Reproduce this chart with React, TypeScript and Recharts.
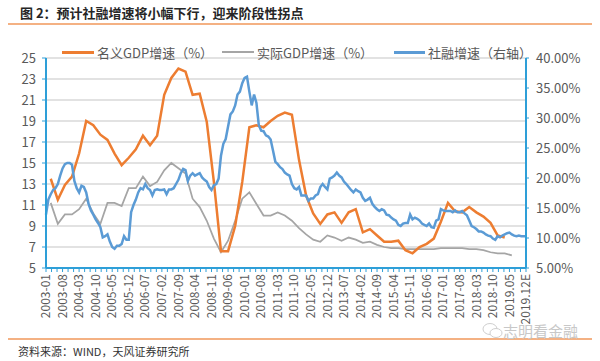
import { LineChart, Line, XAxis, YAxis, CartesianGrid } from 'recharts';

// monthly categories 2003-01 .. 2019-12
const YEARS = [2003, 2004, 2005, 2006, 2007, 2008, 2009, 2010, 2011, 2012, 2013, 2014, 2015, 2016, 2017, 2018, 2019];

// labels shown on the x axis (every 7 months)
const TICK_LABELS = [
  '2003-01', '2003-08', '2004-03', '2004-10', '2005-05', '2005-12', '2006-07', '2007-02',
  '2007-09', '2008-04', '2008-11', '2009-06', '2010-01', '2010-08', '2011-03', '2011-10',
  '2012-05', '2012-12', '2013-07', '2014-02', '2014-09', '2015-04', '2015-11', '2016-06',
  '2017-01', '2017-08', '2018-03', '2018-10', '2019.05', '2019.12E',
];

// 名义GDP增速 (%), quarterly from 2003Q1
const NOMINAL_GDP = [
  13.5, 11.5, 12.9, 13.7, 15.9, 19.0, 18.6, 17.7, 17.2, 15.9, 14.8, 15.5,
  16.3, 17.6, 16.7, 17.6, 21.5, 23.1, 24.0, 23.7, 21.5, 21.6, 18.9, 13.2,
  6.6, 6.6, 9.0, 13.2, 18.4, 18.6, 18.4, 19.0, 19.5, 19.8, 19.6, 15.3,
  11.9, 10.2, 9.2, 10.1, 10.3, 9.3, 10.3, 10.6, 8.4, 8.7, 8.1, 7.5,
  7.5, 7.6, 6.7, 6.4, 7.0, 7.3, 7.8, 9.4, 11.2, 10.4, 10.3, 10.8,
  10.3, 9.9, 9.3, 8.1, 7.9,
];

// 实际GDP增速 (%), quarterly from 2003Q1
const REAL_GDP = [
  11.2, 9.2, 10.1, 10.1, 10.6, 11.6, 10.2, 9.2, 11.2, 11.2, 10.9, 12.6,
  12.6, 13.7, 12.8, 13.2, 14.3, 15.0, 14.5, 14.0, 11.6, 10.8, 9.5, 7.8,
  6.5, 7.6, 9.5, 11.6, 12.2, 11.1, 10.0, 10.0, 10.3, 10.0, 9.5, 8.8,
  8.2, 7.7, 7.5, 8.1, 7.9, 7.6, 7.9, 7.7, 7.4, 7.5, 7.2, 7.0,
  6.9, 6.9, 6.8, 6.8, 6.8, 6.8, 6.8, 6.9, 6.9, 6.9, 6.9, 6.8,
  6.8, 6.7, 6.5, 6.4, 6.4, 6.2,
];

// 社融增速 (%), monthly, one row per year
const TSF_GROWTH = [
  13.9, 16.4, 17.3, 18.0, 18.3, 19.0, 20.4, 21.6, 22.3, 22.5, 22.5, 22.2,
  19.5, 18.3, 17.6, 18.7, 18.5, 17.6, 15.7, 14.6, 13.9, 13.1, 12.5, 11.8,
  10.1, 10.3, 10.6, 9.4, 8.5, 8.2, 8.7, 8.7, 9.0, 10.3, 9.7, 9.7,
  14.3, 15.5, 16.4, 17.6, 18.3, 18.1, 19.0, 18.3, 18.0, 17.1, 18.0, 18.1,
  18.0, 18.0, 18.1, 17.3, 18.1, 18.1, 18.3, 19.0, 19.7, 20.8, 21.5, 21.3,
  19.5, 20.4, 20.8, 20.4, 20.6, 20.8, 20.1, 19.7, 19.4, 18.5, 18.0, 18.8,
  19.0, 19.9, 23.7, 25.7, 26.5, 28.6, 30.6, 31.1, 32.1, 33.9, 34.4, 35.8,
  36.7, 36.9, 34.4, 32.1, 33.9, 32.5, 28.8, 27.9, 27.8, 27.1, 26.9, 26.4,
  24.6, 22.7, 22.3, 21.8, 21.5, 20.9, 20.6, 20.4, 19.0, 18.3, 18.1, 18.5,
  17.1, 17.1, 17.1, 16.2, 16.6, 16.6, 17.1, 17.3, 18.5, 19.0, 18.5, 18.1,
  19.9, 20.1, 20.4, 20.9, 20.4, 20.1, 19.4, 19.0, 18.5, 18.0, 17.6, 18.1,
  17.8, 17.6, 16.7, 16.2, 16.4, 16.7, 15.7, 15.2, 14.8, 14.5, 14.8, 14.6,
  13.9, 13.8, 13.4, 13.1, 12.9, 12.2, 12.0, 12.4, 12.5, 12.5, 13.9, 13.1,
  13.4, 13.2, 12.9, 12.4, 12.2, 12.0, 12.4, 11.8, 11.7, 12.9, 13.1, 14.8,
  14.6, 14.5, 14.5, 14.5, 14.3, 14.6, 14.3, 14.3, 14.5, 14.1, 13.8, 12.9,
  12.0, 11.8, 11.5, 11.1, 11.1, 10.9, 10.6, 10.4, 10.3, 9.9, 9.7, 10.3,
  10.1, 10.4, 10.6, 10.8, 10.9, 10.6, 10.4, 10.3, 10.4, 10.3, 10.3, 10.3,
];

const LEFT_TICKS = [5, 7, 9, 11, 13, 15, 17, 19, 21, 23, 25];
const RIGHT_TICKS = [5, 10, 15, 20, 25, 30, 35, 40];

const ORANGE = '#ED7D31';
const GRAY = '#A5A5A5';
const BLUE = '#5B9BD5';
const AXIS = '#2E9FD8';
const TEXT = '#595959';
const FONT = "'Noto Sans CJK SC', 'Noto Sans', sans-serif";

const MONTHS: string[] = [];
YEARS.forEach((y) => {
  for (let m = 1; m <= 12; m++) MONTHS.push(`${y}-${String(m).padStart(2, '0')}`);
});

// quarterly values sit on the quarter's last month
const data = MONTHS.map((month, idx) => {
  const q = (idx - 2) / 3;
  const onQuarter = Number.isInteger(q);
  return {
    idx,
    month,
    nominal: onQuarter && q < NOMINAL_GDP.length ? NOMINAL_GDP[q] : null,
    real: onQuarter && q < REAL_GDP.length ? REAL_GDP[q] : null,
    tsf: TSF_GROWTH[idx],
  };
});

// minor tick marks: 3 per label step
const X_TICKS = Array.from({ length: 88 }, (_, k) => (k * 7) / 3);

function MonthTick(props: any) {
  const { x, y, payload } = props;
  const k = payload.value / 7;
  const n = Math.round(k);
  if (Math.abs(k - n) > 1e-6) return null;
  return (
    <text
      x={x}
      y={y}
      transform={`rotate(-90, ${x}, ${y})`}
      textAnchor="end"
      dy="0.35em"
      fontSize={12}
      fill={TEXT}
      fontFamily={FONT}
    >
      {TICK_LABELS[n]}
    </text>
  );
}

function LegendItem({ left, lineWidth, color, label, thick }: { left: number; lineWidth: number; color: string; label: string; thick: number }) {
  return (
    <div style={{ position: 'absolute', left, top: 43, height: 18, display: 'flex', alignItems: 'center' }}>
      <div style={{ width: lineWidth, height: thick, background: color, marginRight: 3 }} />
      <span style={{ fontSize: 13, color: TEXT, fontFamily: FONT, whiteSpace: 'nowrap' }}>{label}</span>
    </div>
  );
}

export default function App() {
  return (
    <div style={{ position: 'absolute', left: 0, top: 0, width: 600, height: 361, background: '#fff', overflow: 'hidden', fontFamily: FONT }}>
      <div style={{ position: 'absolute', left: 20, top: 3, fontSize: 13, fontWeight: 'bold', color: '#262626', whiteSpace: 'nowrap' }}>
        图 2：预计社融增速将小幅下行，迎来阶段性拐点
      </div>
      <div style={{ position: 'absolute', left: 8, top: 23, width: 584, height: 1.5, background: '#F4B183' }} />

      <div style={{ position: 'absolute', left: 0, top: 0 }}>
        <LineChart width={600} height={330} data={data} margin={{ top: 58, right: 0, bottom: 0, left: 0 }} style={{ fontFamily: FONT }}>
          <CartesianGrid horizontal vertical={false} stroke="#D9D9D9" strokeWidth={1.5} />
          <XAxis
            dataKey="idx"
            type="number"
            domain={[0, 203]}
            ticks={X_TICKS}
            interval={0}
            height={62}
            tick={MonthTick}
            tickSize={4}
            tickLine={{ stroke: AXIS, strokeWidth: 1 }}
            axisLine={{ stroke: AXIS, strokeWidth: 2 }}
          />
          <YAxis
            domain={[5, 25]}
            ticks={LEFT_TICKS}
            interval={0}
            width={46}
            tickSize={4}
            tickMargin={6}
            tick={{ fill: TEXT, fontSize: 13 }}
            tickLine={{ stroke: AXIS }}
            axisLine={{ stroke: AXIS, strokeWidth: 2 }}
          />
          <YAxis
            yAxisId="right"
            orientation="right"
            domain={[5, 40]}
            ticks={RIGHT_TICKS}
            interval={0}
            width={74}
            tickSize={3}
            tickMargin={7}
            tickFormatter={(v: number) => `${v.toFixed(2)}%`}
            tick={{ fill: TEXT, fontSize: 13 }}
            tickLine={{ stroke: AXIS }}
            axisLine={{ stroke: AXIS, strokeWidth: 2 }}
          />
          <Line dataKey="real" stroke={GRAY} strokeWidth={1.75} dot={false} connectNulls isAnimationActive={false} />
          <Line dataKey="nominal" stroke={ORANGE} strokeWidth={2.5} dot={false} connectNulls isAnimationActive={false} />
          <Line yAxisId="right" dataKey="tsf" stroke={BLUE} strokeWidth={2.5} dot={false} isAnimationActive={false} />
        </LineChart>
      </div>

      <LegendItem left={62} lineWidth={32} color={ORANGE} thick={3} label="名义GDP增速（%）" />
      <LegendItem left={222} lineWidth={32} color={GRAY} thick={2} label="实际GDP增速（%）" />
      <LegendItem left={394} lineWidth={31} color={BLUE} thick={3} label="社融增速（右轴）" />

      <div style={{ position: 'absolute', left: 8, top: 338, width: 584, height: 1.5, background: '#F4B183' }} />
      <div style={{ position: 'absolute', left: 18, top: 343, fontSize: 11, color: '#333', whiteSpace: 'nowrap' }}>
        资料来源：WIND，天风证券研究所
      </div>
      <svg style={{ position: 'absolute', left: 482, top: 322 }} width={22} height={18}>
        <ellipse cx={8} cy={7} rx={7} ry={5.5} fill="none" stroke="#CFCFCF" strokeWidth={1} />
        <ellipse cx={14} cy={11} rx={6} ry={4.5} fill="#fff" stroke="#CFCFCF" strokeWidth={1} />
      </svg>
      <div style={{ position: 'absolute', left: 503, top: 320, fontSize: 15, color: '#C8C8C8', whiteSpace: 'nowrap' }}>
        志明看金融
      </div>
    </div>
  );
}
